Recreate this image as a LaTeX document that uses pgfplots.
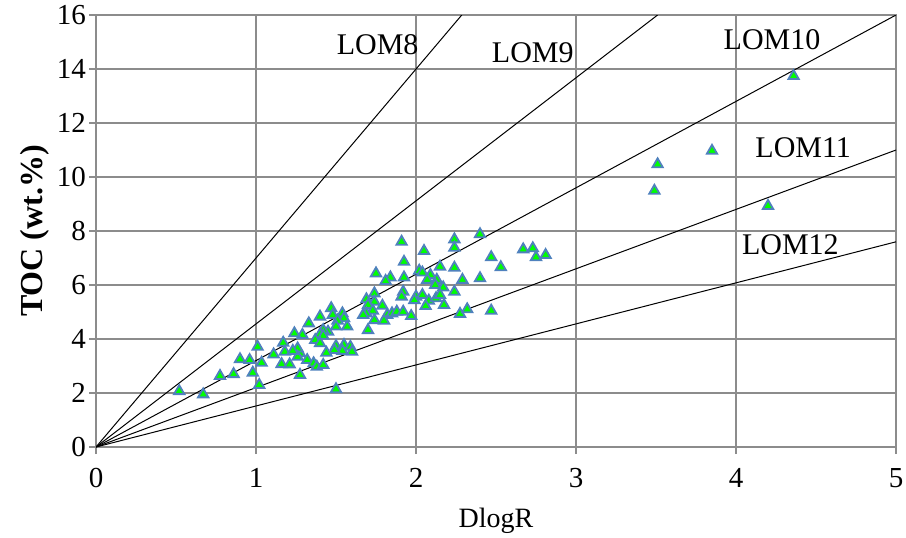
\documentclass[border=0pt]{standalone}
\usepackage{fontspec}
\setmainfont{Liberation Serif}
\usepackage{pgfplots}
\pgfplotsset{compat=1.18}
\definecolor{gridgray}{HTML}{8C8C8C}
\definecolor{mkfill}{HTML}{00FF00}
\definecolor{mkdraw}{HTML}{4F81BD}

\begin{document}
\begin{tikzpicture}
\begin{axis}[
    name=ax,
    scale only axis,
    width=400pt, height=216pt,
    xmin=0, xmax=5, ymin=0, ymax=16,
    xtick={0,1,2,3,4,5},
    ytick={0,2,4,6,8,10,12,14,16},
    grid=major,
    grid style={gridgray, line width=1pt},
    axis line style={gridgray, line width=1pt},
    tick style={gridgray, line width=1pt},
    tick align=outside,
    major tick length=3.5pt,
    xtick pos=bottom, ytick pos=left,
    /pgf/number format/assume math mode=true,
    tick label style={font=\fontsize{14.5}{17}\selectfont},
    xticklabel style={yshift=-3.5pt},
    yticklabel style={xshift=2pt},
    xlabel={DlogR},
    ylabel={\textbf{TOC (wt.\%)}},
    xlabel style={font=\fontsize{14}{17}\selectfont,
        at={(axis description cs:0.5,-0.171)}, anchor=center},
    ylabel style={font=\fontsize{16}{19}\selectfont,
        at={(axis description cs:-0.076,0.5)}, anchor=center},
    clip=true,
]
% LOM lines
\addplot[black, line width=0.5pt] coordinates {(0,0) (2.286,16)};
\addplot[black, line width=0.5pt] coordinates {(0,0) (3.51,16)};
\addplot[black, line width=0.5pt] coordinates {(0,0) (5,16)};
\addplot[black, line width=0.5pt] coordinates {(0,0) (5,11)};
\addplot[black, line width=0.5pt] coordinates {(0,0) (5,7.6)};

% measured samples
\addplot[only marks, mark=triangle*, mark size=3pt,
    mark options={fill=mkfill, draw=mkdraw, line width=0.9pt}] table {
x y
1.91 7.60
2.05 7.26
2.24 7.69
2.24 7.38
2.40 7.88
1.925 6.86
2.67 7.32
2.73 7.36
2.75 7.03
2.81 7.11
2.47 7.03
2.53 6.66
2.24 6.64
2.15 6.68
2.02 6.53
2.04 6.46
2.09 6.37
1.75 6.43
1.84 6.28
1.81 6.15
1.925 6.28
2.07 6.19
2.13 6.19
2.29 6.19
2.40 6.25
2.12 6.00
2.17 5.91
2.24 5.75
1.92 5.75
1.91 5.57
2.00 5.57
1.99 5.44
2.04 5.63
2.08 5.42
2.125 5.51
2.15 5.63
2.175 5.26
2.06 5.22
2.275 4.93
2.32 5.10
2.47 5.05
1.69 5.47
1.74 5.69
1.74 5.38
1.70 5.26
1.79 5.23
1.73 5.05
1.69 4.95
1.82 4.89
1.85 4.95
1.88 5.01
1.92 5.01
1.97 4.85
1.74 4.70
1.80 4.68
1.70 4.33
1.67 4.89
1.47 5.14
1.48 4.89
1.54 4.95
1.55 4.77
1.40 4.83
1.33 4.58
1.51 4.68
1.57 4.46
1.50 4.46
1.45 4.27
1.42 4.33
1.40 4.17
1.42 4.12
1.29 4.15
1.37 3.96
1.40 3.84
1.50 3.74
1.55 3.78
1.59 3.71
1.60 3.53
1.54 3.56
1.49 3.59
1.44 3.49
1.275 3.47
1.32 3.22
1.36 3.10
1.38 2.97
1.42 3.04
1.275 2.67
1.50 2.14
1.26 3.65
1.26 3.34
1.24 4.21
0.52 2.07
0.67 1.95
0.775 2.63
0.86 2.70
0.90 3.25
0.96 3.22
0.98 2.75
1.01 3.71
1.035 3.12
1.02 2.30
1.11 3.43
1.16 3.07
1.17 3.86
1.18 3.53
1.21 3.06
1.23 3.56
3.85 10.97
3.51 10.47
3.49 9.49
4.20 8.93
4.36 13.74
};

\node[font=\fontsize{15}{18}\selectfont] at (axis cs:1.76,14.9) {LOM8};
\node[font=\fontsize{15}{18}\selectfont] at (axis cs:2.73,14.6) {LOM9};
\node[font=\fontsize{15}{18}\selectfont] at (axis cs:4.225,15.07) {LOM10};
\node[font=\fontsize{15}{18}\selectfont] at (axis cs:4.42,11.07) {LOM11};
\node[font=\fontsize{15}{18}\selectfont] at (axis cs:4.34,7.5) {LOM12};
\end{axis}
\pgfresetboundingbox
\path[use as bounding box] ([shift={(-48pt,-45pt)}]ax.south west) rectangle ([shift={(5pt,7.5pt)}]ax.north east);
\end{tikzpicture}
\end{document}
